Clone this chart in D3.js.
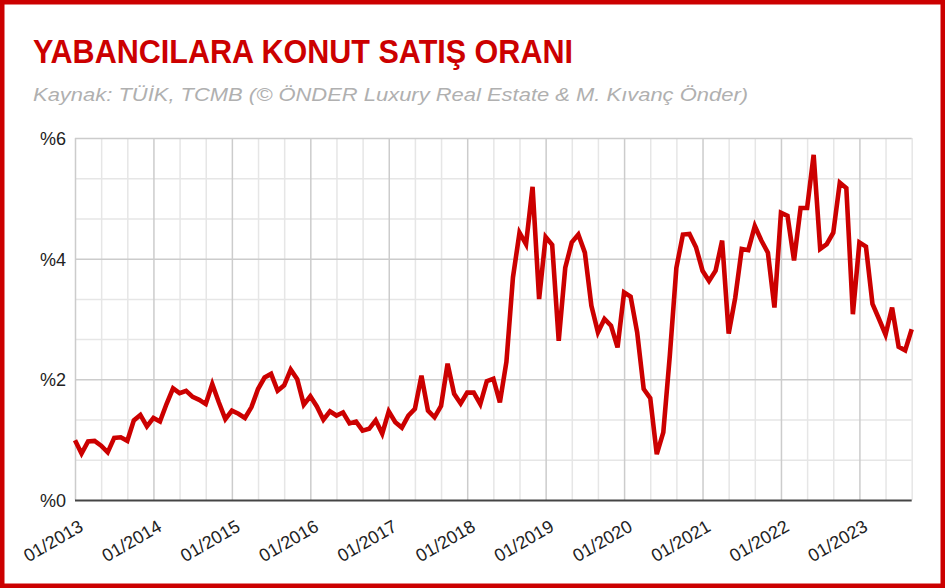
<!DOCTYPE html>
<html>
<head>
<meta charset="utf-8">
<script src="https://cdn.jsdelivr.net/npm/d3@7"></script>
<style>
  html, body { margin: 0; padding: 0; background: #fff; }
  svg { display: block; }
</style>
</head>
<body>
<svg id="chart" width="945" height="588"></svg>
<script>
// ---- data ----
const titleText = "YABANCILARA KONUT SATIŞ ORANI";
const subtitleText = "Kaynak: TÜİK, TCMB (© ÖNDER Luxury Real Estate & M. Kıvanç Önder)";
const startYear = 2013;               // first month: 01/2013, monthly series
const yearTicks = [2013, 2014, 2015, 2016, 2017, 2018, 2019, 2020, 2021, 2022, 2023];
const yTickValues = [0, 2, 4, 6];
// foreign housing sales share (%), monthly 01/2013 .. 09/2023
const values = [
  0.99, 0.77, 0.97, 0.98, 0.90, 0.79, 1.03, 1.04, 0.98, 1.32, 1.41, 1.22,
  1.36, 1.30, 1.59, 1.85, 1.77, 1.81, 1.71, 1.66, 1.59, 1.92, 1.62, 1.34,
  1.48, 1.43, 1.36, 1.54, 1.84, 2.03, 2.09, 1.81, 1.90, 2.16, 2.00, 1.58,
  1.72, 1.55, 1.33, 1.47, 1.40, 1.45, 1.27, 1.30, 1.15, 1.18, 1.32, 1.10,
  1.47, 1.29, 1.20, 1.40, 1.51, 2.06, 1.48, 1.37, 1.56, 2.26, 1.76, 1.60,
  1.78, 1.78, 1.59, 1.97, 2.01, 1.62, 2.29, 3.69, 4.43, 4.24, 5.19, 3.33,
  4.36, 4.23, 2.64, 3.85, 4.27, 4.40, 4.10, 3.22, 2.78, 3.00, 2.89, 2.53,
  3.44, 3.37, 2.78, 1.84, 1.69, 0.76, 1.12, 2.40, 3.85, 4.40, 4.41, 4.19,
  3.80, 3.63, 3.80, 4.30, 2.76, 3.35, 4.16, 4.14, 4.54, 4.30, 4.10, 3.19,
  4.76, 4.71, 3.97, 4.84, 4.84, 5.72, 4.16, 4.24, 4.43, 5.26, 5.17, 3.08,
  4.27, 4.20, 3.25, 3.00, 2.74, 3.19, 2.54, 2.48, 2.83
];

// ---- layout ----
const W = 945, H = 588;
const plot = { left: 75, right: 911.7, top: 138, bottom: 500 };
const red = "#cc0000";

const svg = d3.select("#chart");

// frame
svg.append("rect")
  .attr("x", 2.25).attr("y", 2.25)
  .attr("width", W - 4.5).attr("height", H - 4.5)
  .attr("fill", "#fff")
  .attr("stroke", red).attr("stroke-width", 4.5);

// title & subtitle
svg.append("text")
  .attr("x", 33).attr("y", 63)
  .attr("font-family", "'Liberation Sans', Arial, sans-serif")
  .attr("font-weight", "bold")
  .attr("font-size", 33)
  .attr("fill", red)
  .attr("textLength", 540).attr("lengthAdjust", "spacingAndGlyphs")
  .text(titleText);

svg.append("text")
  .attr("x", 33).attr("y", 101)
  .attr("font-family", "'Liberation Sans', Arial, sans-serif")
  .attr("font-style", "italic")
  .attr("font-size", 19)
  .attr("fill", "#b0b0b0")
  .attr("textLength", 715).attr("lengthAdjust", "spacingAndGlyphs")
  .text(subtitleText);

// scales
const n = values.length;
const x = d3.scaleLinear().domain([0, n - 1]).range([plot.left, plot.right]);
const y = d3.scaleLinear().domain([0, 6]).range([plot.bottom, plot.top]);

const g = svg.append("g");

// minor horizontal gridlines (every 2/3 %)
const minorY = d3.range(0, 6.0001, 2 / 3).filter(v => Math.abs(v / 2 - Math.round(v / 2)) > 1e-6);
g.append("g")
  .attr("transform", `translate(${plot.left},0)`)
  .call(d3.axisLeft(y).tickValues(minorY).tickSize(-(plot.right - plot.left)).tickFormat(""))
  .call(s => s.select(".domain").remove())
  .call(s => s.selectAll("line").attr("stroke", "#e6e6e6").attr("stroke-width", 1.5));

// minor vertical gridlines (every 4 months)
const minorX = d3.range(0, n).filter(i => i % 12 === 4 || i % 12 === 8);
g.append("g")
  .attr("transform", `translate(0,${plot.bottom})`)
  .call(d3.axisBottom(x).tickValues(minorX).tickSize(-(plot.bottom - plot.top)).tickFormat(""))
  .call(s => s.select(".domain").remove())
  .call(s => s.selectAll("line").attr("stroke", "#e6e6e6").attr("stroke-width", 1.5));

// major horizontal gridlines
g.append("g")
  .attr("transform", `translate(${plot.left},0)`)
  .call(d3.axisLeft(y).tickValues(yTickValues.filter(v => v > 0)).tickSize(-(plot.right - plot.left)).tickFormat(""))
  .call(s => s.select(".domain").remove())
  .call(s => s.selectAll("line").attr("stroke", "#cccccc").attr("stroke-width", 1.5));

// major vertical gridlines (years)
const yearIdx = yearTicks.map(yr => (yr - startYear) * 12);
g.append("g")
  .attr("transform", `translate(0,${plot.bottom})`)
  .call(d3.axisBottom(x).tickValues(yearIdx).tickSize(-(plot.bottom - plot.top)).tickFormat(""))
  .call(s => s.select(".domain").remove())
  .call(s => s.selectAll("line").attr("stroke", "#cccccc").attr("stroke-width", 1.5));

// y-axis labels
g.append("g")
  .attr("transform", `translate(${plot.left - 9},0)`)
  .call(d3.axisLeft(y).tickValues(yTickValues).tickSize(0).tickFormat(d => "%" + d))
  .call(s => s.select(".domain").remove())
  .call(s => s.selectAll("text")
    .attr("font-family", "'Liberation Sans', Arial, sans-serif")
    .attr("font-size", 18)
    .attr("fill", "#222")
    .attr("x", 0)
    .attr("dy", "0.36em"));

// x-axis labels
g.append("g")
  .attr("transform", `translate(0,${plot.bottom})`)
  .call(d3.axisBottom(x).tickValues(yearIdx).tickSize(0)
    .tickFormat(i => "01/" + (startYear + i / 12)))
  .call(s => s.select(".domain").remove())
  .call(s => s.selectAll("text")
    .attr("font-family", "'Liberation Sans', Arial, sans-serif")
    .attr("font-size", 18)
    .attr("fill", "#222")
    .attr("text-anchor", "end")
    .attr("x", 0).attr("y", 0).attr("dy", 0)
    .attr("transform", "translate(9,30) rotate(-30)"));

// baseline axis
g.append("line")
  .attr("x1", plot.left).attr("x2", plot.right)
  .attr("y1", y(0) + 0.5).attr("y2", y(0) + 0.5)
  .attr("stroke", "#444").attr("stroke-width", 2);

// the line
const line = d3.line()
  .x((d, i) => x(i))
  .y(d => y(d));

g.append("path")
  .datum(values)
  .attr("d", line)
  .attr("fill", "none")
  .attr("stroke", red)
  .attr("stroke-width", 4.6)
  .attr("stroke-linejoin", "miter");
</script>
</body>
</html>
